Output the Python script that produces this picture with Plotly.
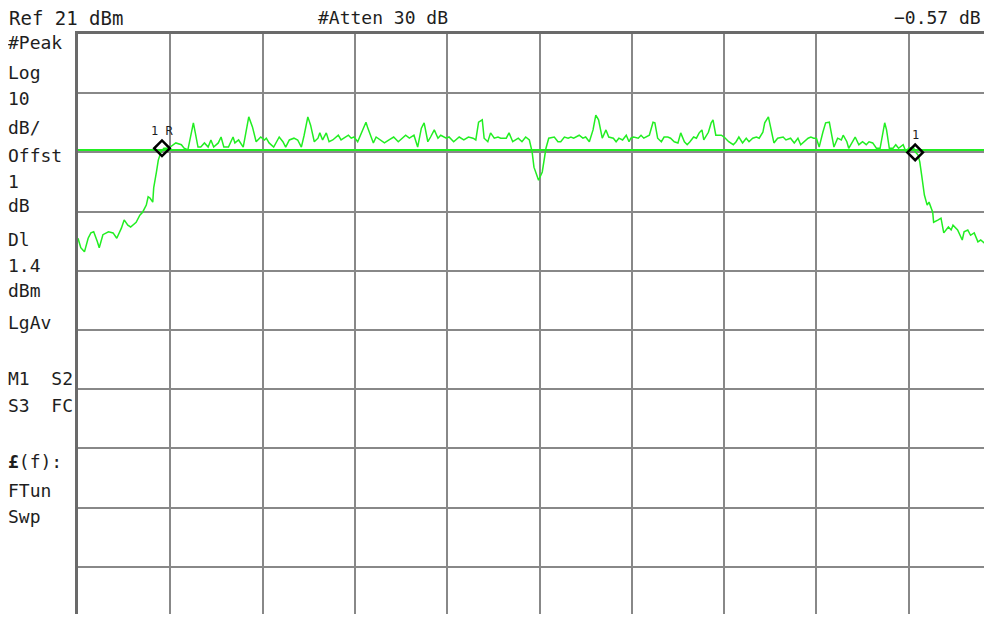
import plotly.graph_objects as go

# ---- data (x in screen divisions, y in dBm) ----
trace_div = [0.00, 0.03, 0.07, 0.11, 0.14, 0.17, 0.21, 0.23, 0.27, 0.33, 0.38, 0.42, 0.47, 0.50, 0.54, 0.57,
             0.63, 0.67, 0.70, 0.74, 0.76, 0.78, 0.81, 0.82, 0.85, 0.87, 0.90, 0.93, 0.98, 1.03, 1.06, 1.12,
             1.15, 1.19, 1.22, 1.25, 1.27, 1.30, 1.33, 1.37, 1.41, 1.44, 1.47, 1.52, 1.55, 1.58, 1.63, 1.66,
             1.68, 1.70, 1.74, 1.79, 1.82, 1.85, 1.89, 1.93, 1.98, 2.02, 2.04, 2.07, 2.12, 2.18, 2.22, 2.25,
             2.29, 2.34, 2.38, 2.42, 2.45, 2.49, 2.52, 2.56, 2.60, 2.62, 2.65, 2.69, 2.72, 2.76, 2.82, 2.85,
             2.88, 2.93, 2.96, 2.99, 3.03, 3.07, 3.12, 3.14, 3.20, 3.23, 3.27, 3.32, 3.37, 3.42, 3.47, 3.52,
             3.55, 3.59, 3.64, 3.68, 3.72, 3.75, 3.79, 3.82, 3.86, 3.90, 3.93, 3.99, 4.02, 4.07, 4.13, 4.18,
             4.23, 4.28, 4.31, 4.34, 4.38, 4.40, 4.44, 4.47, 4.51, 4.55, 4.58, 4.64, 4.67, 4.71, 4.77, 4.81,
             4.85, 4.89, 4.92, 4.94, 4.98, 4.99, 5.03, 5.05, 5.07, 5.10, 5.16, 5.20, 5.23, 5.27, 5.31, 5.34,
             5.37, 5.43, 5.47, 5.50, 5.54, 5.58, 5.61, 5.64, 5.68, 5.72, 5.75, 5.80, 5.83, 5.86, 5.90, 5.94,
             5.97, 5.99, 6.02, 6.07, 6.10, 6.13, 6.19, 6.23, 6.25, 6.28, 6.32, 6.35, 6.39, 6.42, 6.46, 6.50,
             6.53, 6.57, 6.60, 6.63, 6.67, 6.70, 6.73, 6.76, 6.78, 6.83, 6.86, 6.88, 6.91, 6.97, 7.00, 7.05,
             7.10, 7.13, 7.16, 7.20, 7.24, 7.27, 7.31, 7.35, 7.38, 7.42, 7.44, 7.48, 7.50, 7.54, 7.58, 7.64,
             7.67, 7.72, 7.76, 7.80, 7.83, 7.87, 7.91, 7.94, 7.97, 8.00, 8.03, 8.07, 8.10, 8.14, 8.16, 8.19,
             8.23, 8.27, 8.29, 8.33, 8.35, 8.40, 8.42, 8.46, 8.50, 8.54, 8.57, 8.61, 8.65, 8.69, 8.72, 8.74,
             8.76, 8.79, 8.83, 8.86, 8.89, 8.94, 8.97, 9.00, 9.05, 9.07, 9.10, 9.12, 9.14, 9.17, 9.20, 9.22,
             9.26, 9.27, 9.32, 9.35, 9.38, 9.43, 9.46, 9.48, 9.53, 9.58, 9.60, 9.64, 9.67, 9.71, 9.75, 9.78,
             9.82, 9.86, 9.89, 9.91, 10.00]
trace_dbm = [-13.5, -15.1, -15.8, -13.5, -12.6, -12.4, -14.1, -15.1, -12.9, -12.4, -12.6, -13.5, -11.8, -10.4, -11.3, -11.6,
             -10.8, -9.6, -9.1, -7.9, -6.5, -6.7, -7.4, -5.0, -2.3, -0.3, 1.1, 1.7, 1.7, 2.3, 2.6, 2.3,
             1.7, 1.4, 3.9, 6.0, 4.4, 1.9, 1.9, 2.6, 1.9, 3.1, 1.9, 2.6, 3.6, 1.9, 1.9, 2.8,
             3.6, 2.6, 3.1, 1.9, 4.4, 7.0, 5.3, 2.8, 3.6, 3.1, 3.4, 2.6, 1.9, 3.6, 2.8, 1.9,
             3.1, 3.4, 3.1, 1.9, 3.9, 7.0, 5.6, 2.8, 3.4, 4.3, 3.1, 4.3, 2.8, 3.1, 3.9, 3.1,
             3.4, 3.9, 3.4, 3.6, 2.8, 4.4, 6.1, 5.1, 2.6, 3.6, 3.1, 2.6, 3.1, 3.6, 2.8, 3.4,
             3.9, 3.4, 3.9, 1.9, 5.1, 6.0, 2.8, 3.6, 4.8, 3.4, 3.9, 3.4, 3.6, 2.8, 3.6, 3.1,
             3.6, 3.4, 3.1, 6.1, 6.5, 3.4, 2.8, 4.3, 3.4, 3.6, 3.4, 3.4, 4.3, 2.8, 3.4, 2.8,
             3.6, 3.1, 1.1, -1.5, -3.3, -3.7, -2.3, -0.3, 1.7, 3.4, 3.6, 2.8, 2.8, 3.6, 3.4, 3.6,
             3.4, 3.9, 3.4, 3.6, 2.8, 4.8, 7.3, 6.5, 3.4, 4.8, 3.6, 3.4, 2.8, 3.4, 3.1, 3.9,
             2.8, 3.4, 3.6, 3.4, 3.9, 3.4, 3.9, 6.1, 6.0, 3.4, 2.8, 3.6, 3.6, 3.4, 2.8, 2.6,
             4.3, 2.8, 2.3, 2.8, 3.6, 3.4, 4.3, 4.8, 3.1, 4.4, 6.0, 6.5, 3.9, 3.9, 3.6, 2.8,
             2.3, 2.8, 3.6, 2.6, 3.4, 2.8, 3.4, 3.6, 3.4, 4.4, 6.0, 7.0, 5.6, 2.6, 3.4, 3.6,
             3.1, 3.4, 2.6, 3.4, 2.3, 2.8, 3.4, 3.6, 3.4, 3.4, 1.9, 4.4, 6.0, 6.1, 4.3, 1.9,
             3.4, 3.1, 3.9, 2.8, 1.7, 3.1, 3.6, 2.3, 2.8, 2.3, 2.8, 2.6, 1.7, 1.7, 4.4, 6.0,
             4.8, 1.7, 1.7, 2.3, 1.7, 2.3, 1.1, 1.7, 1.9, 1.1, 0.6, -0.6, -2.8, -6.2, -7.9, -7.4,
             -9.1, -10.8, -10.4, -10.1, -12.6, -11.6, -12.1, -11.3, -12.1, -13.8, -12.4, -12.1, -13.0, -12.6, -14.1, -13.8,
             -14.3, -14.1, -15.8, -15.1, -15.5]

ref_level_dbm = 21
db_per_div = 10
display_line_dbm = 1.4
marker_div = [0.91, 9.07]
marker_dbm = [1.7, 1.0]
marker_labels = ["1 R", "1"]

header_texts = ["Ref 21 dBm", "#Atten 30 dB", "\u22120.57 dB"]
side_texts = ["#Peak", "Log", "10", "dB/", "Offst", "1", "dB", "Dl", "1.4", "dBm", "LgAv",
              "M1  S2", "S3  FC", "<b>\u00a3</b>(f):", "FTun", "Swp"]

# ---- layout geometry (page pixels; the page body adds an 8 px margin) ----
PAGE_W, PAGE_H = 992, 622
BODY = 8
W, H = PAGE_W - 2 * BODY, PAGE_H - 2 * BODY    # figure size that fits without scrolling
PLOT_L, PLOT_T = 78, 34                        # plot area corner on the page
L, T = PLOT_L - BODY, PLOT_T - BODY            # figure margins
DIV_PX_X, DIV_PX_Y = 92.3, 59.2
plot_w, plot_h = W - L, H - T
x_max = plot_w / DIV_PX_X
y_min = ref_level_dbm - plot_h / DIV_PX_Y * db_per_div

GREEN = "#22ee22"
GRID = "#888888"
FRAME = "#6a6a6a"
TXT = "#1e1e1e"
FONT = "DejaVu Sans Mono"

fig = go.Figure()
fig.add_trace(go.Scatter(x=[0, 10], y=[display_line_dbm] * 2, mode="lines",
                         line=dict(color=GREEN, width=2), hoverinfo="skip"))
fig.add_trace(go.Scatter(x=trace_div, y=trace_dbm, mode="lines",
                         line=dict(color=GREEN, width=1.5)))
fig.add_trace(go.Scatter(x=marker_div, y=marker_dbm, mode="markers",
                         marker=dict(symbol="diamond-open", size=12, color="black",
                                     line=dict(width=2.5, color="black"))))


def page_to_paper(px, py):
    fx, fy = px - BODY, py - BODY
    return (fx - L) / plot_w, (H - fy) / plot_h


annotations = []
for mx, my, lab in zip(marker_div, marker_dbm, marker_labels):
    annotations.append(dict(x=mx, y=my, xref="x", yref="y", text=lab, showarrow=False,
                            yshift=17, font=dict(family=FONT, size=12, color=TXT)))

header_pos = [(7, 18, "left", 19), (316, 18, "left", 18), (983, 18, "right", 18)]
for (px, py, anchor, fs), t in zip(header_pos, header_texts):
    x, y = page_to_paper(px, py)
    annotations.append(dict(x=x, y=y, xref="paper", yref="paper", text=t, showarrow=False,
                            xanchor=anchor, yanchor="middle",
                            font=dict(family=FONT, size=fs, color=TXT)))

side_y = [43, 72, 99, 127, 155, 181, 205, 239, 265, 290, 322, 378, 405, 462, 490, 517]
for py, t in zip(side_y, side_texts):
    x, y = page_to_paper(6, py)
    annotations.append(dict(x=x, y=y, xref="paper", yref="paper", text=t, showarrow=False,
                            xanchor="left", yanchor="middle",
                            font=dict(family=FONT, size=18, color=TXT)))

fig.update_layout(
    width=W, height=H,
    margin=dict(l=L, r=0, t=T, b=0),
    paper_bgcolor="white", plot_bgcolor="white",
    showlegend=False,
    annotations=annotations,
    xaxis=dict(range=[0, x_max], dtick=1, tick0=0, showgrid=True, gridcolor=GRID, gridwidth=2,
               showticklabels=False, ticks="", zeroline=False, showline=True, linecolor=FRAME,
               linewidth=3, side="top", fixedrange=True),
    yaxis=dict(range=[y_min, ref_level_dbm], dtick=db_per_div, tick0=ref_level_dbm, showgrid=True,
               gridcolor=GRID, gridwidth=2, showticklabels=False, ticks="", zeroline=False,
               showline=True, linecolor=FRAME, linewidth=3, fixedrange=True),
)

fig.write_html("out.html")
